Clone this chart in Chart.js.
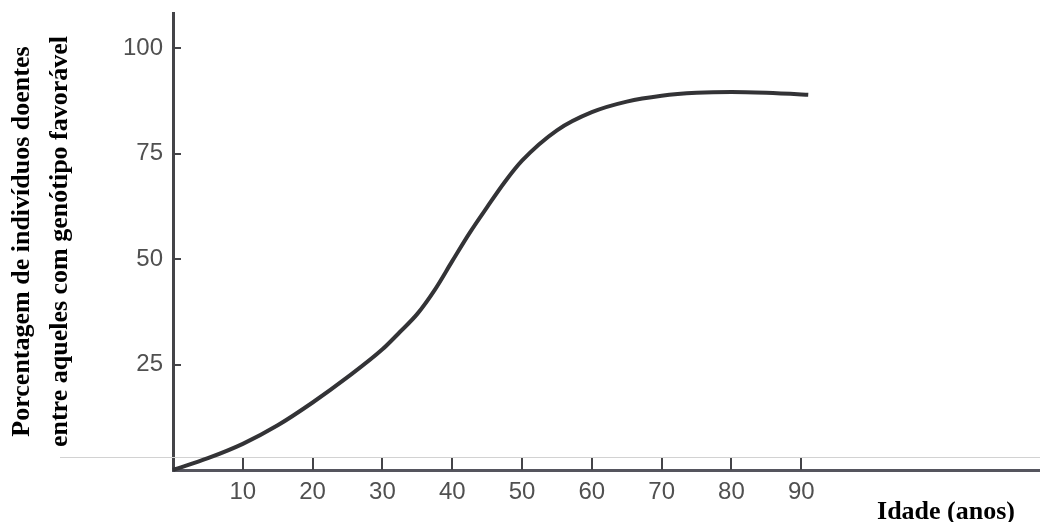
<!DOCTYPE html>
<html>
<head>
<meta charset="utf-8">
<title>Idade x porcentagem de doentes</title>
<script src="https://cdn.jsdelivr.net/npm/chart.js@4"></script>
<style>
  html, body { margin: 0; padding: 0; background: #fff; }
  #wrap { width: 1040px; height: 522px; }
</style>
</head>
<body>
<div id="wrap"><canvas id="chart" width="1040" height="522"></canvas></div>
<script>
// values (age in years -> % sick)
const ages = [0, 5, 10, 15, 20, 25, 30, 32.5, 35, 37.5, 40, 42.5, 45, 47.5, 50, 55, 60, 65, 70, 75, 80, 85, 90, 91];
const sickPercent = [0, 2.8, 6.2, 10.6, 16.0, 22.0, 28.6, 32.7, 37.0, 42.7, 49.5, 56.2, 62.3, 68.2, 73.3, 80.5, 84.8, 87.3, 88.7, 89.4, 89.6, 89.4, 89.0, 88.9];

const xTickLabels = [10, 20, 30, 40, 50, 60, 70, 80, 90];
const yTickLabels = [25, 50, 75, 100];

const yTitleLines = ['Porcentagem de indivíduos doentes', 'entre aqueles com genótipo favorável'];
const xTitle = 'Idade (anos)';

const points = ages.map((a, i) => ({ x: a, y: sickPercent[i] }));

// the original has inward ticks, a faint rule and the x title bottom right
const decorations = {
    id: 'decorations',
    beforeDatasetsDraw(chart) {
        const { ctx, chartArea } = chart;
        ctx.save();
        ctx.strokeStyle = '#d2d2d2';
        ctx.lineWidth = 1;
        ctx.beginPath();
        ctx.moveTo(60, chartArea.bottom - 12.5);
        ctx.lineTo(1040, chartArea.bottom - 12.5);
        ctx.stroke();
        ctx.restore();
    },
    afterDraw(chart) {
        const { ctx, chartArea, scales } = chart;
        ctx.save();
        ctx.strokeStyle = '#444448';
        ctx.lineWidth = 2;
        ctx.beginPath();
        xTickLabels.forEach(v => {
            const px = Math.round(scales.x.getPixelForValue(v));
            ctx.moveTo(px, chartArea.bottom);
            ctx.lineTo(px, chartArea.bottom - 12);
        });
        yTickLabels.forEach(v => {
            const py = Math.round(scales.y.getPixelForValue(v));
            ctx.moveTo(chartArea.left, py);
            ctx.lineTo(chartArea.left + 8, py);
        });
        ctx.stroke();

        ctx.fillStyle = '#000';
        ctx.font = 'bold 26px "Liberation Serif"';
        ctx.textAlign = 'right';
        ctx.textBaseline = 'alphabetic';
        ctx.fillText(xTitle, 1015, 519);
        ctx.restore();
    }
};

function noEdgePadding(scale) {
    scale.paddingTop = 0;
    scale.paddingBottom = 0;
    scale.paddingLeft = 0;
    scale.paddingRight = 0;
}

new Chart(document.getElementById('chart'), {
    type: 'line',
    data: {
        datasets: [{
            data: points,
            borderColor: '#333336',
            borderWidth: 4,
            pointRadius: 0,
            fill: false,
            cubicInterpolationMode: 'monotone',
            clip: false
        }]
    },
    options: {
        responsive: false,
        animation: false,
        devicePixelRatio: 1,
        layout: { padding: { top: 13, right: 0, bottom: 0, left: 0 } },
        plugins: { legend: { display: false }, tooltip: { enabled: false } },
        scales: {
            x: {
                type: 'linear',
                min: 0,
                max: 124.2,
                afterBuildTicks: scale => { scale.ticks = xTickLabels.map(v => ({ value: v })); },
                afterFit: scale => { scale.height = 52; noEdgePadding(scale); },
                grid: { display: false, drawTicks: false },
                border: { display: true, color: '#55555e', width: 3 },
                ticks: {
                    padding: 8,
                    color: '#505050',
                    maxRotation: 0,
                    font: { family: 'Liberation Sans', size: 24 }
                }
            },
            y: {
                min: 0,
                max: 108.3,
                afterBuildTicks: scale => { scale.ticks = yTickLabels.map(v => ({ value: v })); },
                afterFit: scale => { scale.width = 173; noEdgePadding(scale); },
                grid: { display: false, drawTicks: false },
                border: { display: true, color: '#444448', width: 3 },
                ticks: {
                    padding: 10,
                    color: '#505050',
                    font: { family: 'Liberation Sans', size: 24 }
                },
                title: {
                    display: true,
                    text: yTitleLines,
                    color: '#000',
                    padding: { top: 3, bottom: 0 },
                    font: { family: 'Liberation Serif', weight: 'bold', size: 26, lineHeight: 38 / 26 }
                }
            }
        }
    },
    plugins: [decorations]
});
</script>
</body>
</html>
